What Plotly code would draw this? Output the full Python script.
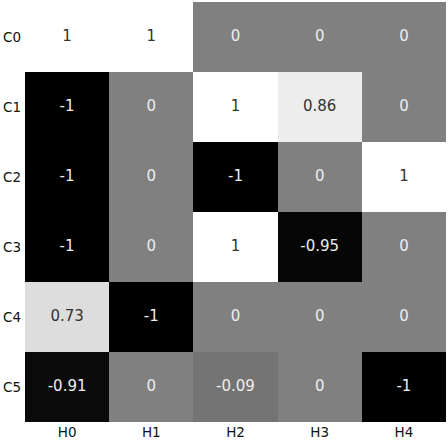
import plotly.graph_objects as go

cols = ["H0", "H1", "H2", "H3", "H4"]
rows = ["C0", "C1", "C2", "C3", "C4", "C5"]
values = [
    [1, 1, 0, 0, 0],
    [-1, 0, 1, 0.86, 0],
    [-1, 0, -1, 0, 1],
    [-1, 0, 1, -0.95, 0],
    [0.73, -1, 0, 0, 0],
    [-0.91, 0, -0.09, 0, -1],
]

fig = go.Figure()
fig.add_trace(go.Heatmap(
    x=cols, y=rows, z=values,
    zmin=-1, zmax=1,
    colorscale=[[0, "#000000"], [1, "#ffffff"]],
    showscale=False, xgap=0, ygap=0, hoverinfo="skip",
))

tx, ty, tt, tc = [], [], [], []
for r, row in zip(rows, values):
    for c, v in zip(cols, row):
        tx.append(c)
        ty.append(r)
        tt.append(f"{v:g}")
        tc.append("#333333" if v > 0.5 else "#eeeeee")

fig.add_trace(go.Scatter(
    x=tx, y=ty, text=tt, mode="text",
    textfont=dict(color=tc, size=15, family="DejaVu Sans"),
    hoverinfo="skip", showlegend=False,
))

fig.update_layout(
    width=448, height=440,
    margin=dict(l=25, r=2, t=2, b=18, autoexpand=False),
    paper_bgcolor="white", plot_bgcolor="white",
    font=dict(family="DejaVu Sans", size=13.5, color="#111111"),
    showlegend=False,
)
fig.update_xaxes(showgrid=False, zeroline=False, ticks="", ticklen=0, showline=False,
                 range=[-0.5, 4.5], automargin=False, ticklabelstandoff=0,
                 tickfont=dict(size=13.5, color="#111111"))
fig.update_yaxes(showgrid=False, zeroline=False, ticks="", showline=False,
                 range=[5.5, -0.5], automargin=False, ticklabelstandoff=3,
                 tickfont=dict(size=13.5, color="#111111"))

fig.write_html(
    "out.html",
    config={"displayModeBar": False},
    post_script="document.body.style.margin='0';document.body.style.padding='0';document.body.style.overflow='hidden';",
)
